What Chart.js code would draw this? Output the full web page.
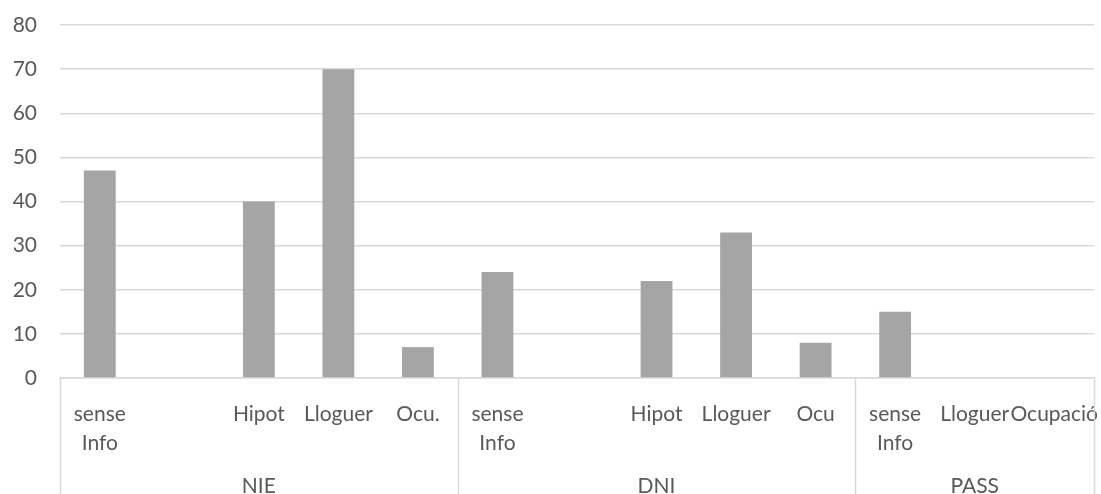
<!DOCTYPE html>
<html>
<head>
<meta charset="utf-8">
<script src="https://cdn.jsdelivr.net/npm/chart.js@4/dist/chart.umd.min.js"></script>
<style>
  body { margin: 0; background: #fff; }
</style>
</head>
<body>
<canvas id="chart" width="1101" height="494"></canvas>
<script>
// categories (13 slots, two of them empty as in the source sheet)
const labels = [
    ["sense", "Info"], "", "Hipot", "Lloguer", "Ocu.",
    ["sense", "Info"], "", "Hipot", "Lloguer", "Ocu",
    ["sense", "Info"], "Lloguer", "Ocupació"
];
const values = [47, 0, 40, 70, 7, 24, 0, 22, 33, 8, 15, 0, 0];
const groups = ["NIE", "DNI", "PASS"];
const groupSizes = [5, 5, 3];
const yTicks = [0, 10, 20, 30, 40, 50, 60, 70, 80];

const textColor = "#595959";
const lineColor = "#d9d9d9";
const font = "Lato";

// group separators + group names under the category labels
const groupAxis = {
    id: "groupAxis",
    afterDraw(chart) {
        const ctx = chart.ctx;
        const x = chart.scales.x;
        const top = chart.chartArea.bottom;
        let start = 0;
        ctx.save();
        ctx.strokeStyle = lineColor;
        ctx.lineWidth = 1.5;
        ctx.fillStyle = textColor;
        ctx.font = "21px " + font;
        ctx.textAlign = "center";
        ctx.textBaseline = "middle";
        for (let g = 0; g <= groups.length; g++) {
            let px = Math.round(x.getPixelForValue(start - 0.5)) + 0.5;
            ctx.beginPath();
            ctx.moveTo(px, top);
            ctx.lineTo(px, chart.height);
            ctx.stroke();
            if (g < groups.length) {
                let mid = x.getPixelForValue(start - 0.5 + groupSizes[g] / 2);
                ctx.fillText(groups[g], mid, 486);
                start += groupSizes[g];
            }
        }
        ctx.restore();
    }
};

new Chart(document.getElementById("chart"), {
    type: "bar",
    data: {
        labels: labels,
        datasets: [{
            data: values,
            backgroundColor: "#a5a5a5",
            borderWidth: 0,
            categoryPercentage: 1,
            barPercentage: 0.4
        }]
    },
    options: {
        responsive: false,
        animation: false,
        layout: { padding: { top: 25, right: 7, bottom: 0, left: 0 } },
        plugins: { legend: { display: false }, tooltip: { enabled: false } },
        scales: {
            x: {
                grid: { display: false },
                border: { display: true, color: lineColor, width: 1.5 },
                ticks: {
                    color: textColor,
                    font: { family: font, size: 21, lineHeight: 1.38 },
                    maxRotation: 0,
                    autoSkip: false,
                    padding: 14
                },
                afterFit(scale) {
                    scale.height = 116;
                    scale.paddingLeft = 0;
                    scale.paddingRight = 0;
                }
            },
            y: {
                min: 0,
                max: 80,
                afterBuildTicks(scale) {
                    scale.ticks = yTicks.map(v => ({ value: v }));
                },
                grid: { color: lineColor, lineWidth: 1.5, drawTicks: false },
                border: { display: false },
                ticks: {
                    color: textColor,
                    font: { family: font, size: 21 },
                    padding: 23
                },
                afterFit(scale) {
                    scale.width = 60;
                    scale.paddingTop = 0;
                    scale.paddingBottom = 0;
                }
            }
        }
    },
    plugins: [groupAxis]
});
</script>
</body>
</html>
